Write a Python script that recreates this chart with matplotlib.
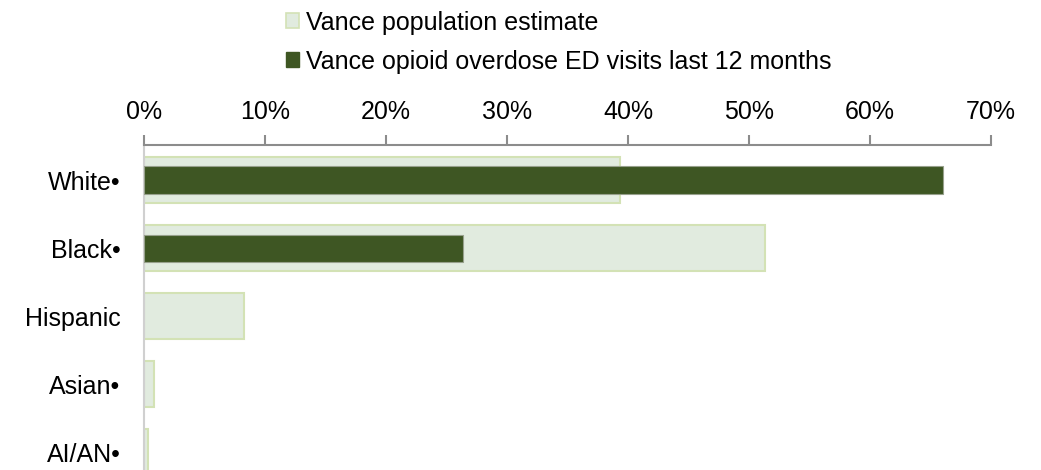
import matplotlib.pyplot as plt
from matplotlib.patches import Patch
from matplotlib.ticker import PercentFormatter

plt.rcParams['font.family'] = ['Liberation Sans', 'DejaVu Sans']

groups = ['White•', 'Black•', 'Hispanic', 'Asian•', 'AI/AN•']
population = [39.3, 51.3, 8.3, 0.8, 0.3]
ed_visits = [66.0, 26.4, 0.0, 0.0, 0.0]
x_ticks = [0, 10, 20, 30, 40, 50, 60, 70]

light_fill = '#e1ebdf'
light_edge = '#d3e2b5'
dark_fill = '#3e5623'

fig = plt.figure(figsize=(10.41, 4.7), dpi=100)
ax = fig.add_axes([144 / 1041, 0, (991 - 144) / 1041, 1 - 145 / 470])

pos = range(len(groups))
ax.barh(pos, population, height=0.68, color=light_fill, edgecolor=light_edge, linewidth=1.5, zorder=2)
# skip the outline on empty bars so no stub shows at 0
ax.barh(pos, ed_visits, height=0.4, color=dark_fill, edgecolor='#97a08c',
        linewidth=[0.8 if v > 0 else 0 for v in ed_visits], zorder=3)

ax.set_xlim(0, 70)
ax.set_ylim(4.26, -0.515)
ax.set_xticks(x_ticks)
ax.xaxis.set_major_formatter(PercentFormatter(decimals=0))
ax.xaxis.tick_top()
ax.tick_params(axis='x', length=7, width=1.5, color='#8c8c8c', labelsize=18, pad=8)
ax.set_yticks(list(pos))
ax.set_yticklabels(groups)
ax.tick_params(axis='y', length=0, labelsize=18, pad=17)

for side in ['right', 'bottom']:
    ax.spines[side].set_visible(False)
ax.spines['top'].set_color('#8c8c8c')
ax.spines['top'].set_linewidth(1.5)
ax.spines['left'].set_color('#d0d0d0')
ax.spines['left'].set_linewidth(1.5)

handles = [Patch(facecolor=light_fill, edgecolor=light_edge, linewidth=1.2),
           Patch(facecolor=dark_fill, edgecolor=dark_fill)]
fig.legend(handles, ['Vance population estimate', 'Vance opioid overdose ED visits last 12 months'],
           loc='upper left', bbox_to_anchor=(263 / 1041, 1.025), frameon=False, fontsize=18,
           handlelength=0.55, handleheight=0.55, handletextpad=0.25, labelspacing=0.6)

fig.savefig('out.png', dpi=100)
